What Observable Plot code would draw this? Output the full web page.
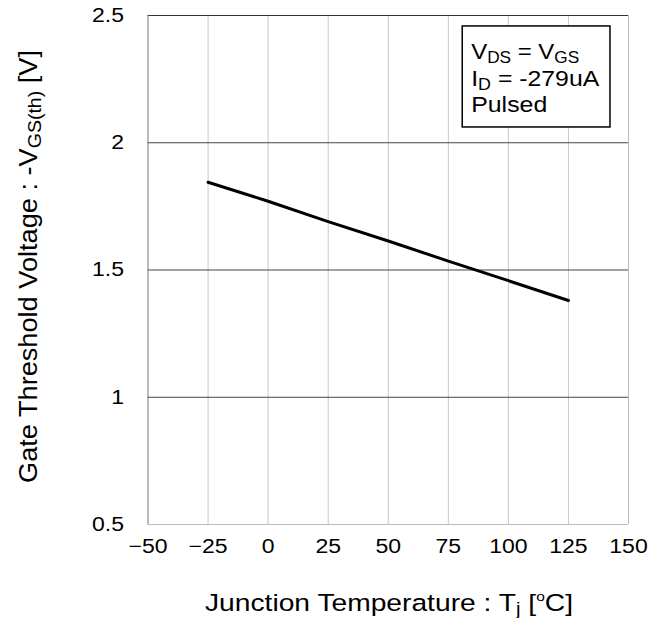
<!DOCTYPE html>
<html>
<head>
<meta charset="utf-8">
<script src="https://cdn.jsdelivr.net/npm/d3@7"></script>
<script src="https://cdn.jsdelivr.net/npm/@observablehq/plot@0.6"></script>
<style>
  body { margin: 0; background: #fff; }
  #chart svg { font-family: "Liberation Sans", Arial, sans-serif; }
</style>
</head>
<body>
<div id="chart"></div>
<script>
const temps = [-25, 0, 25, 50, 75, 100, 125];
const vth = [1.845, 1.77, 1.69, 1.614, 1.535, 1.458, 1.38];
const xTicks = [-50, -25, 0, 25, 50, 75, 100, 125, 150];
const yTicks = [0.5, 1, 1.5, 2, 2.5];
const vGrid = [-25, 0, 25, 50, 75, 100, 125];
const hGrid = [1, 1.5, 2];
const boxX = [81, 142.5];
const boxY = [2.06, 2.457];

const data = temps.map((t, i) => ({t, v: vth[i]}));
const fmt = d3.format("");

const plot = Plot.plot({
  width: 662,
  height: 618,
  marginLeft: 147.5,
  marginRight: 34,
  marginTop: 15,
  marginBottom: 94,
  style: {fontFamily: "Liberation Sans, Arial, sans-serif", background: "#fff"},
  x: {domain: [-50, 150], ticks: xTicks, tickFormat: fmt, tickSize: 0, tickPadding: 14, label: null},
  y: {domain: [0.5, 2.5], ticks: yTicks, tickFormat: fmt, tickSize: 0, tickPadding: 22, label: null},
  marks: [
    Plot.ruleX(vGrid, {stroke: "#c8c8c8", strokeWidth: 1}),
    Plot.ruleY(hGrid, {stroke: "#444", strokeWidth: 1}),
    Plot.ruleY([2.5], {stroke: "#333", strokeWidth: 1.2}),
    Plot.ruleX([-50], {stroke: "#777", strokeWidth: 1}),
    Plot.ruleY([0.5], {stroke: "#bbb", strokeWidth: 1}),
    Plot.ruleX([150], {stroke: "#bbb", strokeWidth: 1}),
    Plot.line(data, {x: "t", y: "v", stroke: "#000", strokeWidth: 3}),
    Plot.rect([{x1: boxX[0], x2: boxX[1], y1: boxY[0], y2: boxY[1]}], {x1: "x1", x2: "x2", y1: "y1", y2: "y2", fill: "#fff", stroke: "#000", strokeWidth: 1.5}),
    Plot.axisX({ticks: xTicks, tickFormat: fmt, tickSize: 0, tickPadding: 14, fontSize: 20, fill: "#000", label: null}),
    Plot.axisY({ticks: yTicks, tickFormat: fmt, tickSize: 0, tickPadding: 24, fontSize: 20, fill: "#000", label: null})
  ]
});

document.getElementById("chart").appendChild(plot);

const svg = d3.select(plot);
const xs = plot.scale("x"), ys = plot.scale("y");
const font = "Liberation Sans, Arial, sans-serif";

// stretch tick labels horizontally like the reference
svg.selectAll("g[aria-label='x-axis tick label'] text, g[aria-label='y-axis tick label'] text").each(function() {
  const w = this.getComputedTextLength();
  this.setAttribute("textLength", w * 1.15);
  this.setAttribute("lengthAdjust", "spacingAndGlyphs");
});

function sub(textEl, parts) {
  parts.forEach(([s, isSub]) => {
    const ts = textEl.append("tspan").text(s);
    if (isSub) ts.attr("font-size", "0.72em").attr("baseline-shift", "-22%");
  });
}
function fit(sel, len) {
  sel.attr("textLength", len).attr("lengthAdjust", "spacingAndGlyphs");
}

// Legend text
const lx = xs.apply(boxX[0]) + 9;
const ly0 = ys.apply(boxY[1]);
const lg = svg.append("g").attr("font-family", font).attr("font-size", 22).attr("fill", "#000").attr("text-anchor", "start");
const t1 = lg.append("text").attr("x", lx).attr("y", ly0 + 33);
sub(t1, [["V", false], ["DS", true], [" = V", false], ["GS", true]]);
fit(t1, 108);
const t2 = lg.append("text").attr("x", lx).attr("y", ly0 + 60);
sub(t2, [["I", false], ["D", true], [" = -279uA", false]]);
fit(t2, 128);
const t3 = lg.append("text").attr("x", lx).attr("y", ly0 + 86).text("Pulsed");
fit(t3, 76);

// X axis label
const xl = svg.append("text").attr("font-family", font).attr("font-size", 24.5).attr("fill", "#000")
  .attr("text-anchor", "start").attr("x", 205).attr("y", 611);
sub(xl, [["Junction Temperature : T", false], ["j", true], [" [", false]]);
xl.append("tspan").text("o").attr("font-size", "0.55em").attr("baseline-shift", "75%");
xl.append("tspan").text("C]");
fit(xl, 368);

// Y axis label
const yl = svg.append("text").attr("font-family", font).attr("font-size", 26).attr("fill", "#000")
  .attr("text-anchor", "start").attr("transform", "translate(37,483) rotate(-90)");
sub(yl, [["Gate Threshold Voltage : -V", false], ["GS(th)", true], [" [V]", false]]);
fit(yl, 433);
</script>
</body>
</html>
